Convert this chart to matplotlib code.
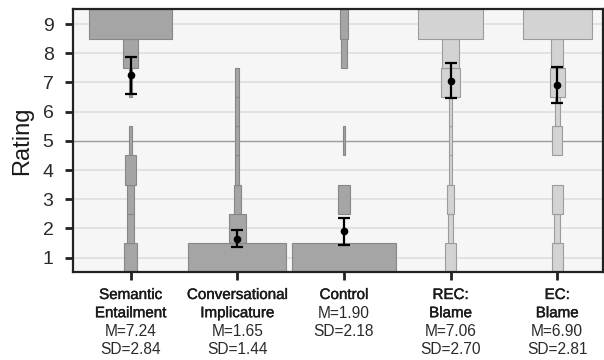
import numpy as np
import matplotlib
matplotlib.use("Agg")
import matplotlib.pyplot as plt
import matplotlib.patheffects as pe

plt.rcParams['font.family'] = ['Liberation Sans', 'DejaVu Sans']

# rating levels and bar widths (share of responses, drawn as bar width)
ratings = [1, 2, 3, 4, 5, 6, 7, 8, 9]
names = ['Semantic\nEntailment', 'Conversational\nImplicature', 'Control',
         'REC:\nBlame', 'EC:\nBlame']
widths_semantic = [0.116, 0.061, 0.061, 0.097, 0.025, 0.0, 0.035, 0.135, 0.777]
widths_conv = [0.915, 0.163, 0.066, 0.035, 0.035, 0.035, 0.035, 0.0, 0.0]
widths_control = [0.971, 0.0, 0.110, 0.0, 0.025, 0.0, 0.0, 0.056, 0.072]
widths_rec = [0.103, 0.050, 0.059, 0.030, 0.030, 0.030, 0.185, 0.160, 0.613]
widths_ec = [0.103, 0.053, 0.106, 0.0, 0.091, 0.044, 0.138, 0.110, 0.645]
means = [7.24, 1.65, 1.90, 7.06, 6.90]
sds = [2.84, 1.44, 2.18, 2.70, 2.81]
ci_half = [0.62, 0.29, 0.47, 0.61, 0.62]

all_widths = [widths_semantic, widths_conv, widths_control, widths_rec, widths_ec]
face = ['#a5a5a5', '#a5a5a5', '#a5a5a5', '#d3d3d3', '#d3d3d3']
edge = ['#878787', '#878787', '#878787', '#9c9c9c', '#9c9c9c']

fig = plt.figure(figsize=(6.04, 3.6), dpi=100)
ax = fig.add_axes([0.1209, 0.2436, 0.8775, 0.7303])
ax.set_facecolor('#f6f6f6')

for y in ratings:
    if y == 5:
        ax.axhline(y, color='#9a9a9a', lw=1.0, zorder=1)
    else:
        ax.axhline(y, color='#dedede', lw=1.2, zorder=1)

for i, w in enumerate(all_widths):
    w = np.array(w)
    keep = w > 0
    ax.barh(np.array(ratings)[keep], w[keep], height=1.0, left=i - w[keep] / 2,
            color=face[i], edgecolor=edge[i], linewidth=0.8, zorder=2)

ax.errorbar(range(len(means)), means, yerr=ci_half, fmt='o', color='black',
            markersize=4.5, elinewidth=1.6, capsize=4.5, capthick=1.6, zorder=4)

ax.set_xlim(-0.54, 4.43)
ax.set_ylim(0.5, 9.5)
ax.set_yticks(ratings)
ax.set_yticklabels([str(r) for r in ratings], fontsize=14, color='#2a2a2a')
ax.set_xticks(range(len(names)))
ax.set_xticklabels([])
ax.tick_params(axis='both', length=6, width=2, color='#222222')
ax.tick_params(axis='y', pad=8)
for s in ax.spines.values():
    s.set_linewidth(1.6)
    s.set_color('#222222')

ax.set_ylabel('Rating', fontsize=17, color='#1a1a1a', labelpad=7)

# category labels with stats underneath
semi = [pe.withStroke(linewidth=0.3, foreground='#1a1a1a')]
y0 = 1 - 295 / 360
step = 18.2 / 360
for i, nm in enumerate(names):
    x = fig.transFigure.inverted().transform(ax.transData.transform((i, 0.5)))[0]
    k = 0
    for ln in nm.split('\n'):
        fig.text(x, y0 - k * step, ln, ha='center', va='center', fontsize=10.9,
                 color='#1a1a1a', path_effects=semi)
        k += 1
    for ln in ['M=%.2f' % means[i], 'SD=%.2f' % sds[i]]:
        fig.text(x, y0 - k * step, ln, ha='center', va='center', fontsize=11.2,
                 color='#2a2a2a')
        k += 1

fig.savefig('out.png', dpi=100)
